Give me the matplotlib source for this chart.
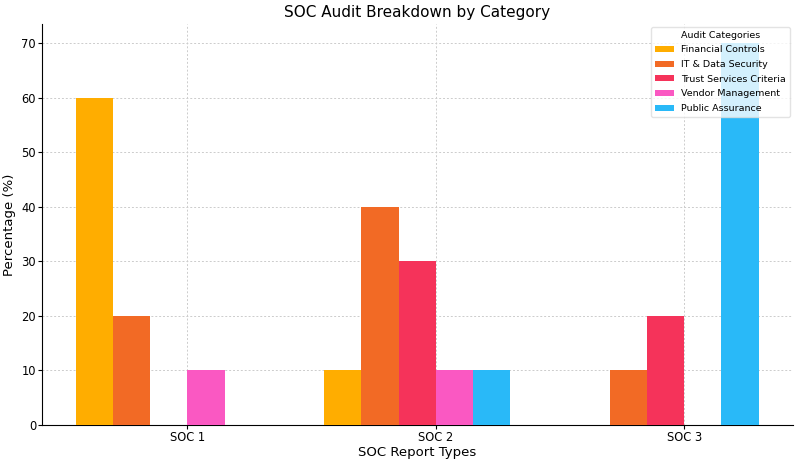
import matplotlib
matplotlib.use("Agg")
import matplotlib.pyplot as plt
import numpy as np

# Report types and audit category shares (%)
reports = ["SOC 1", "SOC 2", "SOC 3"]
categories = ["Financial Controls", "IT & Data Security", "Trust Services Criteria",
              "Vendor Management", "Public Assurance"]
financial = [60, 10, 0]
it_security = [20, 40, 10]
trust = [0, 30, 20]
vendor = [10, 10, 0]
public = [0, 10, 70]

colors = ["#FFAD00", "#F26A25", "#F5335A", "#FA58C2", "#29B9F8"]

series = [financial, it_security, trust, vendor, public]
x = np.arange(len(reports))
width = 0.15

fig, ax = plt.subplots(figsize=(8, 4.63), dpi=100)
fig.subplots_adjust(left=0.052, right=0.991, top=0.948, bottom=0.082)

for i, (vals, name) in enumerate(zip(series, categories)):
    ax.bar(x + (i - 2.5) * width, vals, width, label=name, color=colors[i], zorder=3)

ax.set_xticks(x)
ax.set_xticklabels(reports)
ax.tick_params(axis="both", labelsize=8.3, length=3)
ax.tick_params(axis="x", pad=1.5)
ax.tick_params(axis="y", pad=1)
ax.set_xlabel("SOC Report Types", fontsize=9.5, labelpad=1)
ax.set_ylabel("Percentage (%)", fontsize=9.5, labelpad=4)
ax.set_title("SOC Audit Breakdown by Category", fontsize=11, pad=5)

ax.grid(True, linestyle=(0, (2, 2)), color="#cccccc", linewidth=0.7, zorder=0)
ax.spines["top"].set_visible(False)
ax.spines["right"].set_visible(False)

leg = ax.legend(title="Audit Categories", fontsize=6.8, title_fontsize=6.8,
                loc="upper right", framealpha=0.8, borderaxespad=0.3,
                handlelength=2.0, handleheight=0.6, labelspacing=0.6)
leg.get_frame().set_edgecolor("#dddddd")

fig.savefig("out.png", dpi=100)
